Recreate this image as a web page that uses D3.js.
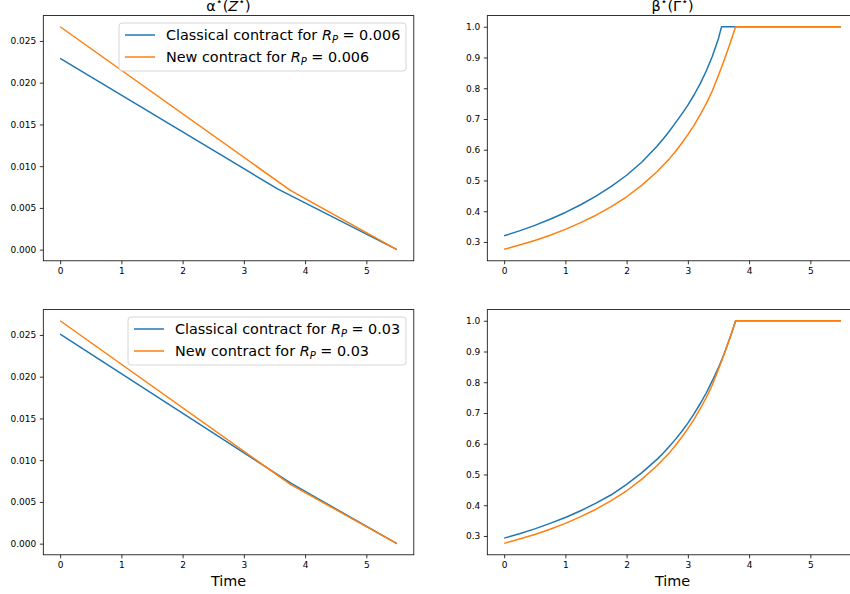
<!DOCTYPE html>
<html><head><meta charset="utf-8">
<script src="https://cdn.jsdelivr.net/npm/d3@7"></script>
<style>body{margin:0;background:#fff}svg{display:block;font-family:"DejaVu Sans",sans-serif}</style>
</head><body><svg id="c" width="850" height="594"></svg>
<script>
// ---- data ----
const betaTimes = [0,0.25,0.5,0.75,1,1.25,1.5,1.75,2,2.25,2.5,2.6,2.7,2.8,2.9,3,3.1,3.2,3.3,3.4,3.5,3.55,3.6,3.7,3.78,4,4.5,5,5.5];
const betaClassical006 = [0.320,0.336,0.354,0.374,0.396,0.421,0.449,0.481,0.517,0.560,0.612,0.636,0.661,0.688,0.716,0.745,0.778,0.814,0.856,0.904,0.962,1,1,1,1,1,1,1,1];
const betaNew006 = [0.276,0.290,0.305,0.322,0.341,0.363,0.387,0.415,0.447,0.485,0.529,0.550,0.571,0.595,0.621,0.649,0.679,0.713,0.750,0.792,0.842,0.868,0.895,0.952,1,1,1,1,1];
const betaClassical003 = [0.293,0.307,0.323,0.341,0.360,0.382,0.407,0.434,0.468,0.506,0.550,0.570,0.592,0.615,0.640,0.667,0.697,0.730,0.765,0.805,0.848,0.871,0.897,0.951,1,1,1,1,1];
const betaNew003 = [0.276,0.290,0.305,0.322,0.341,0.363,0.387,0.415,0.447,0.485,0.529,0.550,0.571,0.595,0.621,0.649,0.679,0.713,0.750,0.792,0.842,0.868,0.895,0.952,1,1,1,1,1];

const alphaTimesClassical006 = [0, 3.55, 5.5];
const alphaClassical006 = [0.0229, 0.00728, 0];
const alphaTimesNew006 = [0, 3.76, 5.5];
const alphaNew006 = [0.0267, 0.0071, 0];
const alphaTimesClassical003 = [0, 3.78, 5.5];
const alphaClassical003 = [0.0251, 0.00718, 0];
const alphaTimesNew003 = [0, 3.76, 5.5];
const alphaNew003 = [0.0267, 0.0071, 0];

const xTicks = [0,1,2,3,4,5];
const alphaTicks = [0,0.005,0.010,0.015,0.020,0.025];
const betaTicks = [0.3,0.4,0.5,0.6,0.7,0.8,0.9,1.0];
const seriesColors = ["#1f77b4","#ff7f0e"];
const rpLabels = ["0.006","0.03"];

// ---- drawing ----
const svg = d3.select("#c");
const zip = (t,v)=>t.map((d,i)=>[d,v[i]]);

function panel(box, yDomain, yTicks, yFmt, series, opts){
  const x = d3.scaleLinear().domain([-0.275,5.775]).range([box.x0, box.x1]);
  const y = d3.scaleLinear().domain(yDomain).range([box.y1, box.y0]);
  const g = svg.append("g");
  const clipId = "clip"+Math.random().toString(36).slice(2);
  g.append("clipPath").attr("id",clipId).append("rect")
    .attr("x",box.x0).attr("y",box.y0).attr("width",box.x1-box.x0).attr("height",box.y1-box.y0);
  const line = d3.line().x(d=>x(d[0])).y(d=>y(d[1]));
  series.forEach((s,i)=>{
    g.append("path").attr("clip-path",`url(#${clipId})`).attr("d",line(s))
      .attr("fill","none").attr("stroke",seriesColors[i]).attr("stroke-width",1.5)
      .attr("stroke-linejoin","round");
  });
  const xa = g.append("g").attr("transform",`translate(0,${box.y1})`)
    .call(d3.axisBottom(x).tickValues(xTicks).tickSize(3.5).tickPadding(3.5).tickFormat(d3.format("d")));
  const ya = g.append("g").attr("transform",`translate(${box.x0},0)`)
    .call(d3.axisLeft(y).tickValues(yTicks).tickSize(3.5).tickPadding(3.5).tickFormat(d3.format(yFmt)));
  [xa,ya].forEach(a=>{
    a.select(".domain").remove();
    a.selectAll("text").attr("font-size",9).attr("font-family","DejaVu Sans").attr("fill","#000");
    a.selectAll("line").attr("stroke","#000").attr("stroke-width",0.8);
  });
  g.append("rect").attr("x",box.x0).attr("y",box.y0).attr("width",box.x1-box.x0).attr("height",box.y1-box.y0)
    .attr("fill","none").attr("stroke","#000").attr("stroke-width",0.8);
  const cx = (box.x0+box.x1)/2;
  if(opts.title){
    const t = g.append("text").attr("x",cx).attr("y",box.y0-5).attr("text-anchor","middle")
      .attr("font-size",14.4);
    opts.title.forEach(p=>{
      const ts = t.append("tspan").text(p.t);
      if(p.sup) ts.attr("baseline-shift","super").attr("font-size",11);
      if(p.it) ts.attr("font-style","italic");
    });
  }
  if(opts.xlabel){
    g.append("text").attr("x",cx).attr("y",box.y1+31).attr("text-anchor","middle")
      .attr("font-size",14.4).text(opts.xlabel);
  }
  if(opts.legend){
    const L = opts.legend;
    const lg = g.append("g");
    lg.append("rect").attr("x",L.x).attr("y",L.y).attr("width",L.w).attr("height",48)
      .attr("rx",3).attr("fill","#fff").attr("fill-opacity",0.8).attr("stroke","#cccccc").attr("stroke-width",0.8);
    ["Classical contract for ","New contract for "].forEach((lab,i)=>{
      const yy = L.y+12+i*22;
      lg.append("line").attr("x1",L.x+6).attr("x2",L.x+36).attr("y1",yy).attr("y2",yy)
        .attr("stroke",seriesColors[i]).attr("stroke-width",1.5);
      const t = lg.append("text").attr("x",L.x+47).attr("y",yy+5).attr("font-size",14.4);
      t.append("tspan").text(lab);
      t.append("tspan").attr("font-style","italic").text("R");
      t.append("tspan").attr("font-size",10).attr("dy",3).attr("font-style","italic").text("P");
      t.append("tspan").attr("dy",-3).text(" = "+L.rp);
    });
  }
}

const alphaDom = [-0.001335, 0.028035];
const betaDom = [0.23875, 1.03625];
const alphaTitle = [{t:"α"},{t:"⋆",sup:true},{t:"("},{t:"Z",it:true},{t:"⋆",sup:true},{t:")"}];
const betaTitle = [{t:"β"},{t:"⋆",sup:true},{t:"(Γ"},{t:"⋆",sup:true},{t:")"}];

panel({x0:43.3,x1:413.8,y0:15.6,y1:260.8}, alphaDom, alphaTicks, ".3f",
  [zip(alphaTimesClassical006,alphaClassical006), zip(alphaTimesNew006,alphaNew006)],
  {title:alphaTitle, legend:{x:119,y:23,w:287,rp:rpLabels[0]}});
panel({x0:487.3,x1:857.8,y0:15.6,y1:260.8}, betaDom, betaTicks, ".1f",
  [zip(betaTimes,betaClassical006), zip(betaTimes,betaNew006)],
  {title:betaTitle});
panel({x0:43.3,x1:413.8,y0:309.6,y1:554.8}, alphaDom, alphaTicks, ".3f",
  [zip(alphaTimesClassical003,alphaClassical003), zip(alphaTimesNew003,alphaNew003)],
  {xlabel:"Time", legend:{x:128,y:317,w:278,rp:rpLabels[1]}});
panel({x0:487.3,x1:857.8,y0:309.6,y1:554.8}, betaDom, betaTicks, ".1f",
  [zip(betaTimes,betaClassical003), zip(betaTimes,betaNew003)],
  {xlabel:"Time"});
</script></body></html>
